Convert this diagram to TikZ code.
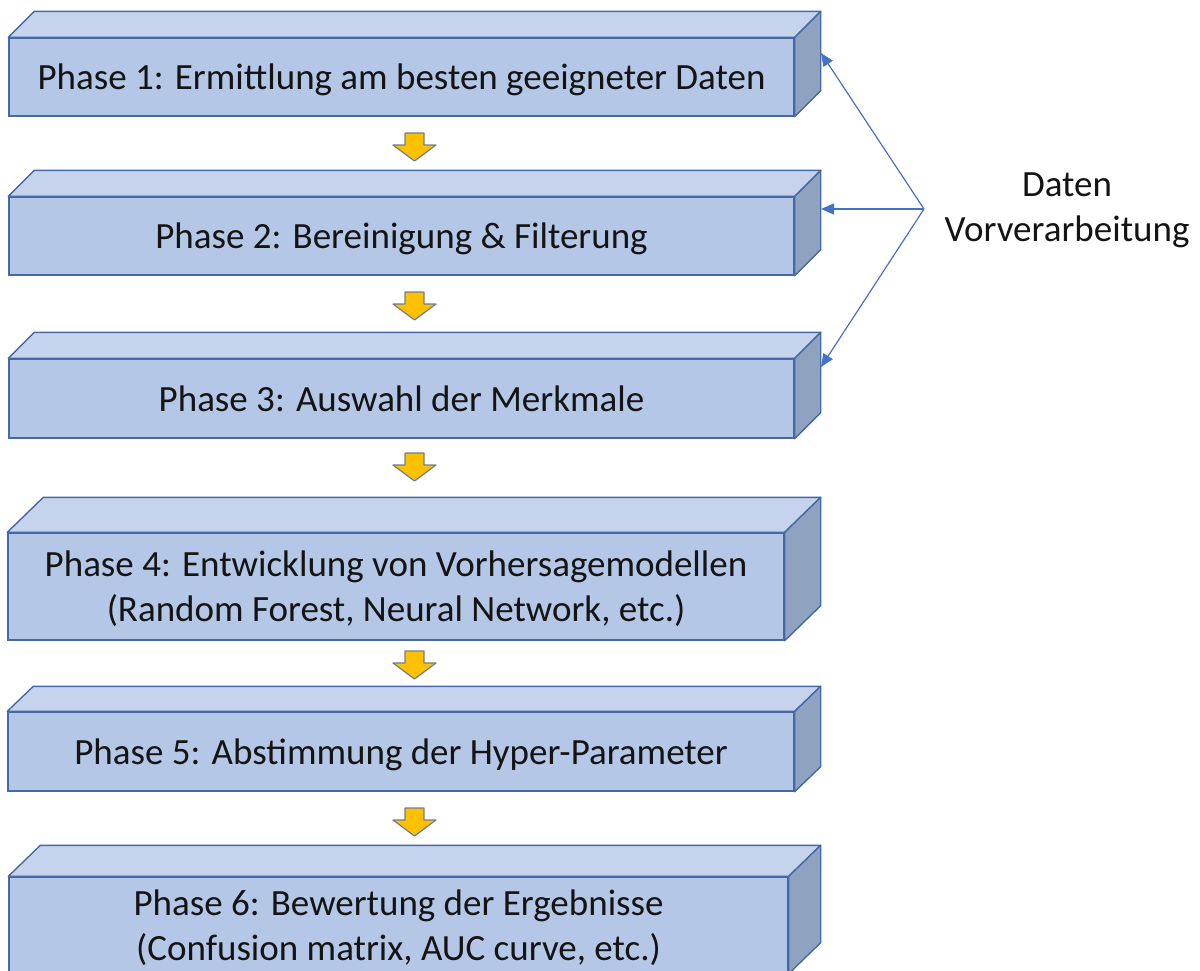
\documentclass[tikz,border=0pt]{standalone}
\usepackage{fontspec}
\setmainfont{Carlito}
\usetikzlibrary{arrows.meta,calc}
\definecolor{frontc}{RGB}{180,199,231}
\definecolor{topc}{RGB}{197,212,236}
\definecolor{sidec}{RGB}{143,162,192}
\definecolor{edgec}{RGB}{70,104,166}
\definecolor{linkc}{RGB}{68,114,196}
\definecolor{arrfill}{RGB}{255,192,0}
\definecolor{arredge}{RGB}{110,125,150}
\definecolor{txtc}{RGB}{20,20,20}
\tikzset{
  phase/.style={draw=edgec, fill=frontc, line width=1.4pt, inner sep=0pt, align=center,
    text=txtc, text depth=0pt, font=\fontsize{37}{45}\selectfont},
  face/.style={draw=edgec, line width=1.4pt, line join=round},
  yarrow/.style={fill=arrfill, draw=arredge, line width=1.2pt, line join=round},
  link/.style={draw=linkc, line width=1.2pt, -{Triangle[length=13pt,width=11pt]}},
  lbl/.style={align=center, text=txtc, font=\fontsize{37}{45}\selectfont}
}
% name, x1, x2, y1, y2, dx, dy, text
\newcommand\phasebox[8]{%
  \node[phase, minimum width={#3-#2}, minimum height={#5-#4}] (#1) at ({(#2+#3)/2},{(#4+#5)/2}) {#8};
  \draw[face, fill=topc] (#1.north west) -- ++(#6,-#7) -- ($(#1.north east)+(#6,-#7)$) -- (#1.north east) -- cycle;
  \draw[face, fill=sidec] (#1.north east) -- ++(#6,-#7) -- ($(#1.south east)+(#6,-#7)$) -- (#1.south east) -- cycle;
}
% top y
\newcommand\yellowdown[1]{%
  \draw[yarrow] (405,#1) -- (424,#1) -- (424,#1+12) -- (436,#1+12) -- (414.5,#1+28) -- (393,#1+12) -- (405,#1+12) -- cycle;
}
\begin{document}
\begin{tikzpicture}[x=1pt,y=-1pt]
\useasboundingbox (0,0) rectangle (1200,970);
\phasebox{p1}{9}{794}{38}{116}{26}{26}{Phase 1: Ermittlung am besten geeigneter Daten}
\phasebox{p2}{9}{794}{197}{275}{26}{26}{Phase 2: Bereinigung \& Filterung}
\phasebox{p3}{9}{794}{359}{438}{26}{26}{Phase 3: Auswahl der Merkmale}
\phasebox{p4}{8}{784}{533}{640}{36}{35}{Phase 4: Entwicklung von Vorhersagemodellen\\(Random Forest, Neural Network, etc.)}
\phasebox{p5}{8}{794}{712}{791}{26}{25}{Phase 5: Abstimmung der Hyper-Parameter}
\phasebox{p6}{9}{788}{877}{973}{32}{31}{\fontsize{37}{44}\selectfont Phase 6: Bewertung der Ergebnisse\\(Confusion matrix, AUC curve, etc.)}
\yellowdown{133}
\yellowdown{292}
\yellowdown{453}
\yellowdown{651}
\yellowdown{808}
\node[lbl] (dv) at (1067,210) {Daten\\Vorverarbeitung};
\coordinate (hub) at (924,209);
\coordinate (t1) at (821,53);
\coordinate (t2) at (821,209);
\coordinate (t3) at (821,367);
\draw[link] (hub) -- (t1);
\draw[link] (hub) -- (t2);
\draw[link] (hub) -- (t3);
\end{tikzpicture}
\end{document}
